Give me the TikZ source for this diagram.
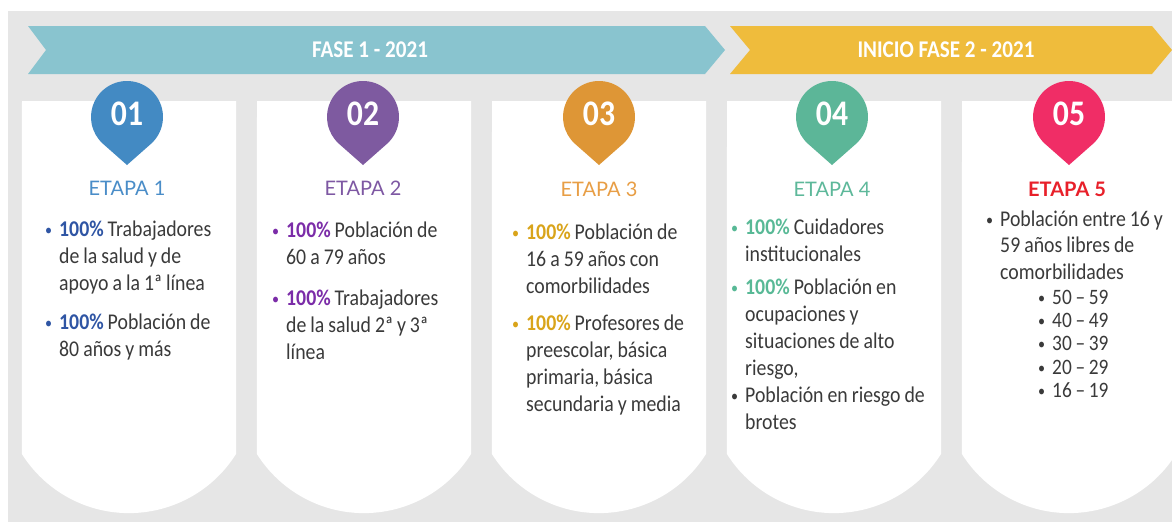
\documentclass[tikz,border=0pt]{standalone}
\usepackage{fontspec}
\setmainfont{Carlito}[FakeStretch=0.88]
\newfontfamily\titlefont{Lato}
\usetikzlibrary{calc}
\definecolor{bggray}{HTML}{E6E6E6}
\definecolor{tealb}{HTML}{89C4CF}
\definecolor{yellowb}{HTML}{EFBC3C}
\definecolor{bodygray}{HTML}{3A3A3A}
\definecolor{pinA}{HTML}{438AC3}
\definecolor{pinB}{HTML}{7E5AA0}
\definecolor{pinC}{HTML}{DE9636}
\definecolor{pinD}{HTML}{5CB698}
\definecolor{pinE}{HTML}{F02D66}
\definecolor{titA}{HTML}{4A8DC8}
\definecolor{titB}{HTML}{7E58A3}
\definecolor{titC}{HTML}{E89E45}
\definecolor{titD}{HTML}{5DB89A}
\definecolor{titE}{HTML}{E8202A}
\definecolor{hiA}{HTML}{2F55A4}
\definecolor{hiB}{HTML}{7B2CA8}
\definecolor{hiC}{HTML}{D9A41A}
\definecolor{hiD}{HTML}{58B996}
\newcommand{\bu}[1][bodygray]{\leavevmode\llap{\textcolor{#1}{\raisebox{1pt}{\fontsize{16}{16}\selectfont\textbullet}}\hspace{7pt}}}
\newcommand{\tightsp}{\spaceskip=4pt plus 1pt minus 0.5pt\xspaceskip=4.5pt\relax}
\begin{document}
\begin{tikzpicture}[x=1pt,y=-1pt,
  bannertext/.style={text=white,font=\fontsize{24}{28}\selectfont\bfseries,inner sep=0pt},
  numtext/.style={text=white,font=\fontsize{36}{40}\selectfont\bfseries,inner sep=0pt},
  titletext/.style={font=\titlefont\fontsize{20}{24}\selectfont,inner sep=0pt},
  bodytext/.style={anchor=north west,yshift=18.9pt,inner sep=0pt,text width=200pt,align=left,
    text=bodygray,font=\fontsize{22.5}{27}\selectfont,execute at begin node=\tightsp},
  subtext/.style={anchor=north west,yshift=18.9pt,inner sep=0pt,text width=150pt,align=left,
    text=bodygray,font=\fontsize{22}{23.4}\selectfont,execute at begin node=\tightsp},
  card/.style={fill=white}]
\useasboundingbox (0,0) rectangle (1172,522);
\clip (0,0) rectangle (1172,522);
\fill[bggray] (8,11) rectangle (1172,522);
% banners
\fill[tealb] (28,26) -- (705,26) -- (725,50) -- (705,74) -- (28,74) -- (46,50) -- cycle;
\node[bannertext] (f1) at (370,50) {FASE 1 - 2021};
\fill[yellowb] (730,26) -- (1152,26) -- (1172,50) -- (1152,74) -- (730,74) -- (750,50) -- cycle;
\node[bannertext] (f2) at (946,50) {INICIO FASE 2 - 2021};
% cards
\foreach \x in {22,257,492,727,962}{
  \fill[card] (\x,101) -- (\x+214,101) -- (\x+214,454)
     arc[start angle=32.2,end angle=147.8,radius=126.5] -- cycle;
}
% pins
\foreach \cx/\col/\num/\nm in {127/pinA/01/n1,363/pinB/02/n2,599/pinC/03/n3,832/pinD/04/n4,1069/pinE/05/n5}{
  \coordinate (pc\nm) at (\cx,117);
  \fill[\col] (\cx,165) -- ([shift={(48.6:36)}]pc\nm)
     arc[start angle=48.6,end angle=-228.6,radius=36] -- cycle;
  \node[numtext] (\nm) at (\cx,114) {\num};
}
% titles
\node[titletext,text=titA] (t1) at (127,188) {ETAPA 1};
\node[titletext,text=titB] (t2) at (363,188) {ETAPA 2};
\node[titletext,text=titC] (t3) at (599,189) {ETAPA 3};
\node[titletext,text=titD] (t4) at (832,189) {ETAPA 4};
\node[titletext,text=titE,font=\titlefont\fontsize{20}{24}\selectfont\bfseries] (t5) at (1067,189) {ETAPA 5};
% card 1
\node[bodytext] (a1) at (59,236.5) {\bu[hiA]\strut\textcolor{hiA}{\textbf{100\%}} Trabajadores\\de la salud y de\\apoyo a la 1ª línea};
\node[bodytext] (a2) at (59,329.5) {\bu[hiA]\strut\textcolor{hiA}{\textbf{100\%}} Población de\\80 años y más};
% card 2
\node[bodytext] (b1) at (286,237.5) {\bu[hiB]\strut\textcolor{hiB}{\textbf{100\%}} Población de\\60 a 79 años};
\node[bodytext] (b2) at (286,305.5) {\bu[hiB]\strut\textcolor{hiB}{\textbf{100\%}} Trabajadores\\de la salud 2ª y 3ª\\línea};
% card 3
\node[bodytext] (c1) at (526,239.5) {\bu[hiC]\strut\textcolor{hiC}{\textbf{100\%}} Población de\\16 a 59 años con\\comorbilidades};
\node[bodytext] (c2) at (526,330.5) {\bu[hiC]\strut\textcolor{hiC}{\textbf{100\%}} Profesores de\\preescolar, básica\\primaria, básica\\secundaria y media};
% card 4
\node[bodytext] (d1) at (745,234.5) {\bu[hiD]\strut\textcolor{hiD}{\textbf{100\%}} Cuidadores\\institucionales};
\node[bodytext] (d2) at (745,294.5) {\bu[hiD]\strut\textcolor{hiD}{\textbf{100\%}} Población en\\ocupaciones y\\situaciones de alto\\riesgo,};
\node[bodytext] (d3) at (745,402.5) {\bu\strut Población en riesgo de\\brotes};
% card 5
\node[bodytext,font=\fontsize{22.5}{26.5}\selectfont] (e1) at (1000,226.5) {\bu\strut Población entre 16 y\\59 años libres de\\comorbilidades};
\node[subtext] (e2) at (1052,306.5) {\bu\strut 50\,–\,59\\\bu\strut 40\,–\,49\\\bu\strut 30\,–\,39\\\bu\strut 20\,–\,29\\\bu\strut 16\,–\,19};
\end{tikzpicture}
\end{document}
